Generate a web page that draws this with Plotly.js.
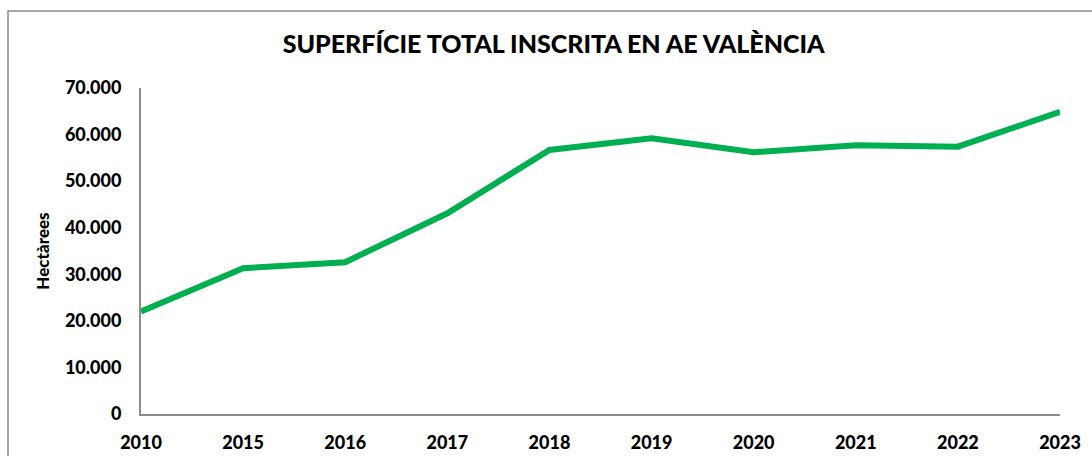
<!DOCTYPE html>
<html>
<head>
<meta charset="utf-8">
<script src="https://cdn.plot.ly/plotly-3.0.1.min.js"></script>
<style>html,body{margin:0;padding:0;background:#fff;}#chart{width:1092px;height:456px;}</style>
</head>
<body>
<div id="chart"></div>
<script>
const years = ["2010","2015","2016","2017","2018","2019","2020","2021","2022","2023"];
const hectares = [22000, 31300, 32600, 43100, 56700, 59200, 56200, 57700, 57400, 64900];
const yTickVals = [0, 10000, 20000, 30000, 40000, 50000, 60000, 70000];
const yTickText = ["0", "10.000", "20.000", "30.000", "40.000", "50.000", "60.000", "70.000"];

const trace = {
  x: years,
  y: hectares,
  type: 'scatter',
  mode: 'lines',
  line: {color: '#00B050', width: 6},
  hoverinfo: 'x+y'
};

const layout = {
  width: 1092,
  height: 456,
  margin: {l: 141, r: 32, t: 88, b: 42},
  paper_bgcolor: '#ffffff',
  plot_bgcolor: '#ffffff',
  showlegend: false,
  title: {
    text: 'SUPERFÍCIE TOTAL INSCRITA EN AE VALÈNCIA',
    font: {family: 'Lato, sans-serif', size: 25, color: '#000000', weight: 900},
    x: 0.507, xanchor: 'center',
    y: 1 - 44/456, yanchor: 'middle', yref: 'container'
  },
  xaxis: {
    type: 'category',
    range: [0, years.length - 1],
    showgrid: false,
    zeroline: false,
    showline: true,
    linecolor: '#8c8c8c',
    linewidth: 2,
    ticks: '',
    ticklabelstandoff: 11,
    tickfont: {family: 'Lato, sans-serif', size: 18, color: '#000000', weight: 900}
  },
  yaxis: {
    range: [0, 70000],
    tickvals: yTickVals,
    ticktext: yTickText,
    showgrid: false,
    zeroline: false,
    showline: true,
    linecolor: '#8c8c8c',
    linewidth: 2,
    ticks: '',
    ticklabelstandoff: 14,
    tickfont: {family: 'Lato, sans-serif', size: 18, color: '#000000', weight: 900},
    title: {
      text: 'Hectàrees',
      font: {family: 'Lato, sans-serif', size: 17, color: '#000000', weight: 900},
      standoff: 11
    }
  },
  shapes: [{
    type: 'rect', xref: 'paper', yref: 'paper',
    x0: (8 - 141) / 919, x1: 1.3,
    y0: -0.5, y1: (414 - 11) / 326,
    line: {color: '#8c8c8c', width: 1.5},
    fillcolor: 'rgba(0,0,0,0)',
    layer: 'below'
  }]
};

Plotly.newPlot('chart', [trace], layout, {displayModeBar: false, staticPlot: true});
</script>
</body>
</html>
